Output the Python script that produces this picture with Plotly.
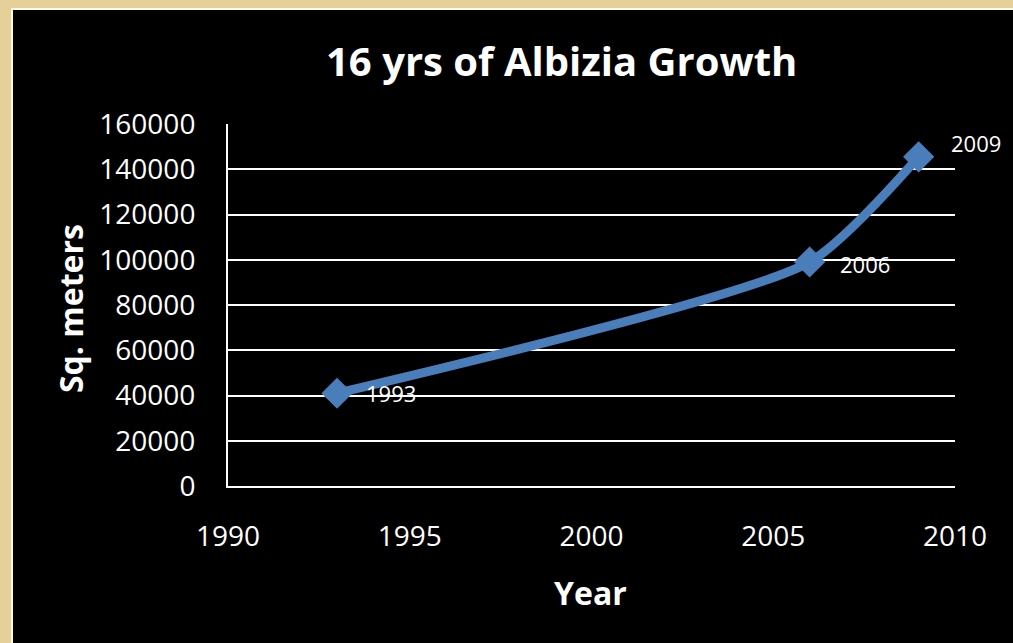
import plotly.graph_objects as go

years = [1993, 2006, 2009]
area = [41000, 99000, 145500]
point_labels = ["1993", "2006", "2009"]
x_ticks = [1990, 1995, 2000, 2005, 2010]
y_ticks = [0, 20000, 40000, 60000, 80000, 100000, 120000, 140000, 160000]

W, H = 1013, 643
L, R, T, B = 228, 955, 124, 486
pw, ph = R - L, B - T


def px(x):
    return (x - L) / pw


def py(y):
    return (B - y) / ph


FONT = "Open Sans"
fig = go.Figure()
fig.add_trace(go.Scatter(
    x=years, y=area, mode="lines+markers",
    line=dict(color="#4a7ebb", width=9, shape="spline", smoothing=0.6),
    marker=dict(symbol="diamond", size=24, color="#4a7ebb"),
    showlegend=False, hoverinfo="x+y",
))

label_shift = [(27, 0), (28, -2), (30, 14)]
annotations = []
for xv, yv, t, (dx, dy) in zip(years, area, point_labels, label_shift):
    annotations.append(dict(x=xv, y=yv, xref="x", yref="y", text=t, showarrow=False,
                            xanchor="left", yanchor="middle", xshift=dx, yshift=dy,
                            font=dict(family=FONT, size=22, color="white")))

annotations += [
    dict(x=px(561), y=py(61), xref="paper", yref="paper", text="<b>16 yrs of Albizia Growth</b>",
         showarrow=False, xanchor="center", yanchor="middle",
         font=dict(family=FONT, size=40, color="white")),
    dict(x=px(590), y=py(592), xref="paper", yref="paper", text="<b>Year</b>",
         showarrow=False, xanchor="center", yanchor="middle",
         font=dict(family=FONT, size=32, color="white")),
    dict(x=px(70), y=py(309), xref="paper", yref="paper", text="<b>Sq. meters</b>",
         showarrow=False, xanchor="center", yanchor="middle", textangle=-90,
         font=dict(family=FONT, size=32, color="white")),
]

fig.update_layout(
    width=W, height=H,
    margin=dict(l=L, r=W - R, t=T, b=H - B, pad=0),
    paper_bgcolor="#e6d09a",
    plot_bgcolor="rgba(0,0,0,0)",
    font=dict(family=FONT, color="white"),
    shapes=[dict(type="rect", xref="paper", yref="paper", layer="below",
                 x0=px(12), x1=px(1030), y0=py(660), y1=py(9),
                 fillcolor="black", line=dict(color="#fff8e2", width=2))],
    annotations=annotations,
    xaxis=dict(range=[1990, 2010], tickvals=x_ticks, ticktext=[str(v) for v in x_ticks],
               showgrid=False, zeroline=False, showline=True, linecolor="white", linewidth=2,
               ticks="", tickfont=dict(family=FONT, size=28, color="white"),
               ticklabelstandoff=24),
    yaxis=dict(range=[0, 160000], tickvals=y_ticks, ticktext=[str(v) for v in y_ticks],
               showgrid=True, gridcolor="white", gridwidth=2, zeroline=False,
               showline=True, linecolor="white", linewidth=2,
               ticks="", tickfont=dict(family=FONT, size=28, color="white"),
               ticklabelstandoff=25),
)

fig.write_html("out.html")
